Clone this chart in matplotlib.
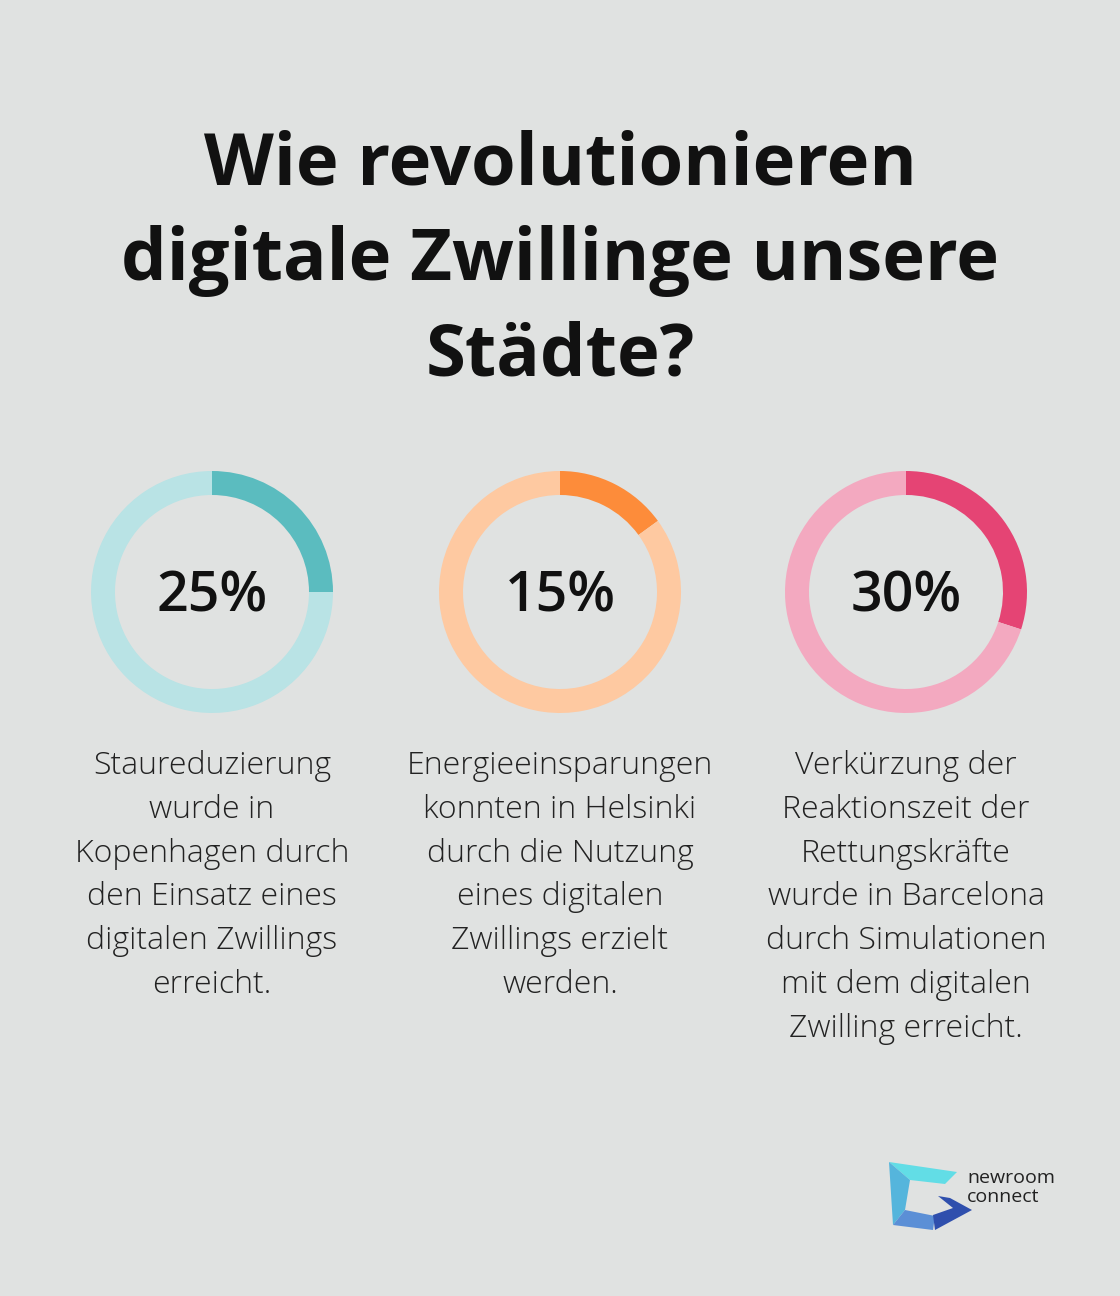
import matplotlib
matplotlib.use('Agg')
import matplotlib.pyplot as plt
from matplotlib.patches import Polygon

W, H = 1120, 1296

title = 'Wie revolutionieren\ndigitale Zwillinge unsere\nStädte?'
values = [25, 15, 30]
labels = ['25%', '15%', '30%']
descriptions = [
    'Staureduzierung\nwurde in\nKopenhagen durch\nden Einsatz eines\ndigitalen Zwillings\nerreicht.',
    'Energieeinsparungen\nkonnten in Helsinki\ndurch die Nutzung\neines digitalen\nZwillings erzielt\nwerden.',
    'Verkürzung der\nReaktionszeit der\nRettungskräfte\nwurde in Barcelona\ndurch Simulationen\nmit dem digitalen\nZwilling erreicht.',
]
dark_colors = ['#5bbcbf', '#fd8c3a', '#e54474']
light_colors = ['#b9e3e5', '#fec9a1', '#f3a9c0']

bg = '#e0e2e1'
fig = plt.figure(figsize=(W / 100, H / 100), dpi=100, facecolor=bg)
ax = fig.add_axes([0, 0, 1, 1])
ax.set_facecolor(bg)

def Y(y):
    return H - y

# title
ax.text(560, Y(261), title, ha='center', va='center', fontsize=52,
        fontweight='bold', family='Open Sans', color='#111111', linespacing=1.42)

centers_x = [212, 560, 906]
for cx, v, lab, desc, dc, lc in zip(centers_x, values, labels, descriptions, dark_colors, light_colors):
    ax.pie([v, 100 - v], colors=[dc, lc], startangle=90, counterclock=False,
           center=(cx, Y(592)), radius=121, wedgeprops=dict(width=24, linewidth=0))
    ax.text(cx, Y(597), lab, ha='center', va='center', fontsize=40,
            fontweight='semibold', family='Open Sans', color='#111111')
    ax.text(cx, Y(750), desc, ha='center', va='top', fontsize=23,
            fontweight='light', family='Open Sans', color='#222222', linespacing=1.49)

# logo
ax.add_patch(Polygon([(889, Y(1162)), (957, Y(1172)), (945, Y(1184)), (910, Y(1180))],
                     closed=True, color='#62dde6', lw=0))
ax.add_patch(Polygon([(889, Y(1162)), (910, Y(1180)), (905, Y(1210)), (893, Y(1225))],
                     closed=True, color='#55b5dc', lw=0))
ax.add_patch(Polygon([(893, Y(1225)), (905, Y(1210)), (935, Y(1216)), (933, Y(1230))],
                     closed=True, color='#5b8fd6', lw=0))
ax.add_patch(Polygon([(938, Y(1196)), (950, Y(1198)), (972, Y(1210)), (935, Y(1230)), (933, Y(1215)), (953, Y(1208))],
                     closed=True, color='#2f4fad', lw=0))
ax.text(967, Y(1178), 'newroom', ha='left', va='center', fontsize=14,
        family='Open Sans', color='#222222')
ax.text(967, Y(1197), 'connect', ha='left', va='center', fontsize=14,
        family='Open Sans', color='#222222')

ax.set_xlim(0, W)
ax.set_ylim(0, H)
ax.set_aspect('auto')
ax.axis('off')

fig.savefig('out.png', dpi=100, facecolor=bg)
